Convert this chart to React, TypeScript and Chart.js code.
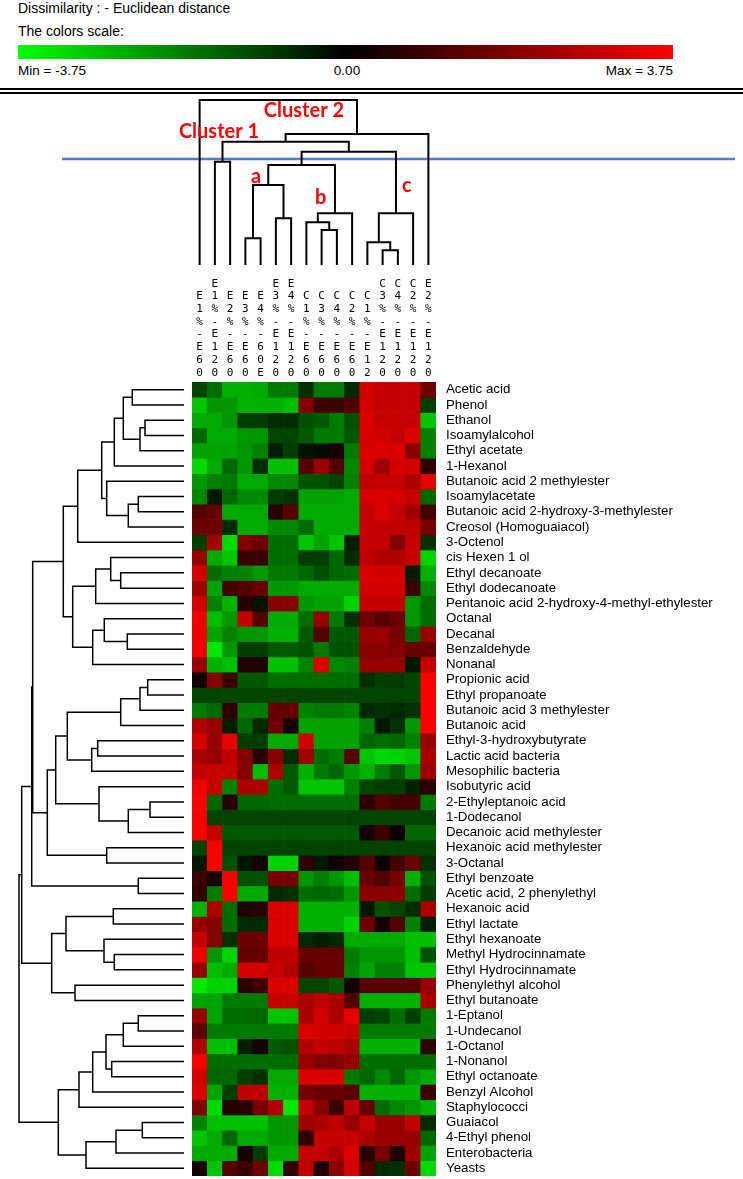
import React, { useEffect, useRef } from 'react';
import { Chart, registerables } from 'chart.js';

Chart.register(...registerables);

// ---------------- DATA ----------------
const COLUMNS: string[] = [
  'E1%-E60', 'E1%-E120', 'E2%-E60', 'E3%-E60', 'E4%-60E', 'E3%-E120', 'E4%-E120',
  'C1%-E60', 'C3%-E60', 'C4%-E60', 'C2%-E60', 'C1%-E12', 'C3%-E120', 'C4%-E120',
  'C2%-E120', 'E2%-E120',
];

const ROWS: string[] = [
  'Acetic acid', 'Phenol', 'Ethanol', 'Isoamylalcohol', 'Ethyl acetate', '1-Hexanol',
  'Butanoic acid 2 methylester', 'Isoamylacetate', 'Butanoic acid 2-hydroxy-3-methylester',
  'Creosol (Homoguaiacol)', '3-Octenol', 'cis Hexen 1 ol', 'Ethyl decanoate', 'Ethyl dodecanoate',
  'Pentanoic acid 2-hydroxy-4-methyl-ethylester', 'Octanal', 'Decanal', 'Benzaldehyde', 'Nonanal',
  'Propionic acid', 'Ethyl propanoate', 'Butanoic acid 3 methylester', 'Butanoic acid',
  'Ethyl-3-hydroxybutyrate', 'Lactic acid bacteria', 'Mesophilic bacteria', 'Isobutyric acid',
  '2-Ethyleptanoic acid', '1-Dodecanol', 'Decanoic acid methylester', 'Hexanoic acid methylester',
  '3-Octanal', 'Ethyl benzoate', 'Acetic acid, 2 phenylethyl', 'Hexanoic acid', 'Ethyl lactate',
  'Ethyl hexanoate', 'Methyl Hydrocinnamate', 'Ethyl Hydrocinnamate', 'Phenylethyl alcohol',
  'Ethyl butanoate', '1-Eptanol', '1-Undecanol', '1-Octanol', '1-Nonanol', 'Ethyl octanoate',
  'Benzyl Alcohol', 'Staphylococci', 'Guaiacol', '4-Ethyl phenol', 'Enterobacteria', 'Yeasts',
];

// standardized values, one row per compound, one entry per column
const VALUES: number[][] = [
  [-1.0, -1.6, -2.6, -2.6, -2.5, -1.8, -1.8, -0.7, -1.8, -1.8, -0.6, 3.1, 2.9, 2.9, 2.9, 1.6],
  [-2.9, -2.2, -2.2, -2.6, -2.6, -2.6, -2.8, 1.9, 0.9, 0.9, 1.2, 3.1, 2.9, 2.9, 2.9, -0.9],
  [-2.5, -2.5, -2.2, -0.9, -0.9, -0.65, -0.65, -1.2, -1.3, -1.8, -1.2, 3.2, 2.9, 2.9, 2.9, -2.9],
  [-1.5, -2.5, -2.5, -2.2, -2.2, -1.0, -1.0, -1.3, -1.8, -1.8, -1.3, 3.2, 3.1, 2.9, 3.2, -1.9],
  [-2.4, -2.4, -2.4, -2.2, -1.9, -0.45, -0.9, -0.3, -0.2, 0.35, -1.8, 3.2, 3.2, 3.2, 2.0, -1.9],
  [-3.2, -2.5, -1.5, -2.2, -0.65, -2.8, -2.8, 1.3, 2.2, 1.2, -2.0, 3.1, 2.35, 3.1, 3.1, 0.7],
  [-2.2, -1.9, -1.8, -2.5, -2.5, -2.0, -2.0, -1.2, -1.2, -1.0, -1.9, 2.8, 2.9, 2.9, 2.5, 3.4],
  [-2.0, -0.35, -1.5, -2.0, -2.0, -0.9, -0.7, -2.4, -2.4, -2.4, -2.5, 3.1, 3.2, 3.1, 2.9, -1.5],
  [1.2, 1.5, -2.5, -2.5, -2.5, 0.6, 1.2, -2.5, -2.5, -2.5, -2.5, 2.9, 3.2, 2.9, 2.35, 1.0],
  [1.6, 1.6, -0.6, -2.5, -2.5, -2.0, -2.0, -1.6, -2.5, -2.5, -2.5, 2.9, 2.8, 2.8, 2.8, 1.75],
  [-0.9, 2.35, -3.2, 1.9, 1.6, -1.6, -1.6, -2.9, -2.4, -2.9, -0.45, 2.9, 2.9, 1.9, 2.9, -0.7],
  [2.2, -2.5, -2.9, 0.9, 0.9, -1.6, -1.6, -0.9, -0.9, -1.5, -0.65, 2.8, 2.6, 2.6, 2.9, -3.1],
  [3.1, -1.6, -1.9, -1.9, -2.2, -1.8, -1.8, -1.5, -1.2, -1.5, -1.6, 3.2, 3.1, 3.1, -0.45, -2.6],
  [2.35, -2.4, 1.0, 1.2, 1.5, -2.2, -2.2, -2.5, -2.5, -2.5, -2.5, 3.1, 3.1, 3.1, 0.9, -2.0],
  [3.1, -1.9, -2.6, 0.6, -0.3, 2.0, 2.0, -2.2, -2.4, -2.4, -3.1, 2.9, 2.9, 2.9, -2.2, -1.6],
  [3.5, -2.8, -2.2, 2.9, 1.2, -2.5, -2.5, -1.6, 2.2, -1.8, -0.7, 1.6, 1.3, 1.6, -2.2, -1.6],
  [3.5, -2.4, -1.9, -2.2, -2.2, -2.6, -2.6, -1.3, 1.2, -1.3, -1.3, 2.2, 2.2, 1.75, -1.5, 2.2],
  [3.5, -3.4, -2.2, -0.9, -0.9, -1.3, -1.3, -1.2, -1.8, -1.2, -1.2, 2.0, 2.0, 1.9, 1.5, 1.5],
  [2.2, -2.6, -2.8, 0.45, 0.45, -2.8, -2.8, -1.9, 3.2, -2.0, -1.9, 2.2, 2.2, 2.2, -0.35, 2.9],
  [0.2, 1.9, 0.9, -1.3, -1.3, -1.6, -1.6, -1.6, -1.6, -1.6, -1.6, -0.7, -0.9, -0.9, -1.0, 3.7],
  [-1.0, -1.0, -1.0, -1.0, -1.0, -1.0, -1.0, -1.0, -1.0, -1.0, -1.0, -1.0, -1.0, -1.0, -1.0, 3.7],
  [-1.8, -1.5, 0.7, -1.8, -1.8, 1.5, 1.5, -1.9, -1.8, -1.8, -1.9, -0.6, -0.7, -0.6, -0.7, 3.7],
  [2.6, 2.2, -0.45, -1.5, -0.6, 1.6, 0.3, -2.4, -2.4, -2.4, -2.4, -1.9, -0.35, -0.7, -2.2, 3.7],
  [3.1, 2.2, 3.4, -0.9, -0.9, -2.5, -2.5, 3.1, -2.4, -2.4, -2.4, -1.5, -1.6, -1.5, -1.9, 2.2],
  [2.5, 2.2, 2.8, 1.9, 0.6, 2.0, -0.6, 2.35, -1.6, -1.8, 1.3, -2.9, -3.2, -3.1, -2.9, 2.5],
  [2.9, 2.9, 2.9, 1.9, -2.8, 2.5, -1.3, -2.6, -1.8, -1.5, -2.2, -2.6, -1.8, -1.3, -2.2, 2.35],
  [3.5, 2.9, -1.9, 2.5, 2.5, -1.6, -1.3, -2.9, -2.9, -2.9, -1.9, -1.0, -0.9, -0.9, -0.5, 0.6],
  [3.7, -1.5, 0.6, -1.5, -1.5, -1.6, -1.6, -1.6, -1.6, -1.6, -1.6, 0.7, 1.2, 1.0, 1.0, -1.8],
  [3.7, -1.0, -1.0, -1.0, -1.0, -1.0, -1.0, -1.0, -1.0, -1.0, -1.0, -1.0, -1.0, -1.0, -1.0, -1.0],
  [3.7, 2.8, -1.3, -1.3, -1.3, -1.3, -1.3, -1.3, -1.3, -1.3, -1.3, 0.3, 0.9, 0.2, -1.5, -1.5],
  [-1.0, 3.7, -1.0, -1.0, -1.0, -1.0, -1.0, -1.0, -1.0, -1.0, -1.0, -1.0, -1.0, -1.0, -1.0, -1.0],
  [-0.3, 3.7, -1.2, -0.3, 0.3, -3.1, -3.1, 0.7, -0.35, 0.2, 0.5, 1.3, 0.2, 1.0, 1.5, -0.7],
  [0.9, 0.35, 3.7, -1.2, -1.2, 1.75, 1.75, -2.2, -1.9, -2.2, -2.8, 1.5, 1.2, 1.75, -2.6, -1.2],
  [0.7, -1.8, 3.7, -2.5, -2.5, -0.6, -0.7, -1.6, -1.5, -1.6, -2.2, 2.0, 2.0, 2.0, -1.6, -0.9],
  [-2.6, 2.5, -1.6, 0.45, 0.6, 3.2, 3.2, -2.6, -2.6, -2.6, -2.6, -0.35, -1.2, -1.0, -0.6, 2.5],
  [2.2, 1.9, -1.6, -0.6, -0.6, 3.2, 3.2, -2.6, -2.6, -2.6, -3.1, 1.6, 0.35, 1.2, -1.9, -0.45],
  [2.9, 1.9, -0.7, 1.6, 1.6, 3.2, 3.2, -0.6, -0.45, -0.6, -2.5, -2.5, -2.5, -2.5, -2.8, -2.8],
  [3.5, -2.2, -3.1, 1.5, 1.5, 2.8, 2.8, 1.5, 1.5, 1.5, -1.8, -2.2, -2.2, -2.2, -2.8, -1.2],
  [2.2, -2.8, -2.5, 3.1, 3.1, 2.9, 2.6, 1.2, 1.5, 1.5, -1.9, -2.4, -1.9, -1.9, -2.9, -2.9],
  [-3.4, -3.1, -3.1, 0.6, 1.0, 3.2, 3.2, -1.0, -1.0, -1.3, 0.3, 1.3, 1.3, 1.3, 1.3, 2.2],
  [-2.4, -2.4, -1.8, -1.8, -1.8, 2.9, 2.9, 2.5, 2.8, 2.5, 1.2, -2.6, -2.6, -2.6, -2.6, 2.5],
  [2.2, -2.4, -1.6, -1.6, -1.5, -2.9, -2.9, 2.5, 3.1, 2.5, 3.4, -0.9, -1.0, -1.6, -0.9, -1.8],
  [1.3, -1.8, -1.8, -1.8, -1.8, -1.8, -1.8, 3.2, 3.1, 3.1, 2.9, -1.8, -1.8, -1.8, -1.8, -1.8],
  [2.6, -2.8, -2.8, -0.45, 0.35, -1.3, -1.2, 2.6, 2.9, 2.8, 2.5, -2.6, -2.6, -2.6, -2.6, 0.7],
  [3.7, -1.6, -1.6, -1.6, -1.6, -1.6, -1.6, 2.2, 1.9, 1.9, 2.2, -1.6, -1.6, -1.6, -1.6, -1.6],
  [3.1, -1.5, -1.5, -0.9, -0.7, -2.5, -2.5, 3.2, 3.2, 3.2, -1.8, -1.5, -2.0, -1.5, -2.2, -2.5],
  [3.2, -2.4, -0.9, 2.8, 2.8, -2.6, -2.6, 1.75, 1.5, 1.5, 1.3, -2.6, -2.6, -2.6, -2.6, 0.9],
  [1.9, -3.2, 0.6, 0.6, 1.75, 2.6, -3.4, 2.9, 2.0, 0.9, 2.8, 1.5, -1.6, -2.0, -2.2, -2.6],
  [-1.9, -2.8, -2.8, -2.8, -2.8, -2.2, -2.2, 2.35, 2.5, 2.8, 2.2, 2.9, 2.2, 2.2, 2.8, -0.6],
  [-2.9, -2.5, -1.5, -2.5, -2.5, -2.2, -2.2, 0.7, 2.9, 2.9, 2.9, 2.5, 2.2, 2.2, 2.2, -1.5],
  [-2.5, -2.5, -2.5, 0.35, -0.9, -2.5, -2.5, 2.9, 2.9, 2.5, 3.2, 0.6, 1.75, 0.45, 2.35, -2.4],
  [0.3, -2.9, 1.2, 0.9, 1.6, -3.2, 0.7, 2.8, 0.45, 2.0, 3.1, 1.2, -0.6, -0.7, 1.6, -3.2],
];

// linkage: [childA, childB, dissimilarity]; ids < n are leaves, id n+k is the k-th merge
const ROW_LINKAGE: [number, number, number][] = [
  [0, 1, 51.7], [2, 3, 39], [53, 4, 44], [52, 54, 60.7], [55, 5, 69.7],
  [7, 8, 45.7], [57, 9, 55.7], [6, 58, 77.3], [56, 59, 82.3], [60, 10, 106.3],
  [12, 13, 63.3], [11, 62, 73.3], [63, 14, 88.3], [16, 17, 56.7], [15, 65, 79.7],
  [66, 18, 91.3], [64, 67, 111.3], [61, 68, 120.7], [19, 20, 36.3], [70, 21, 44],
  [71, 22, 63.3], [23, 24, 86.3], [73, 25, 92.3], [72, 74, 116.7], [27, 28, 34],
  [76, 29, 55.7], [26, 77, 85], [75, 78, 128.3], [30, 31, 77.3], [79, 80, 136.7],
  [69, 81, 151.3], [32, 33, 45.7], [82, 83, 152.3], [34, 35, 70.7], [37, 38, 69.7],
  [36, 86, 80], [85, 87, 118], [39, 40, 109], [88, 89, 132.3], [84, 90, 162.3],
  [41, 42, 45.7], [92, 43, 60.7], [44, 45, 72.3], [93, 94, 78], [95, 46, 91.3],
  [96, 47, 105], [48, 49, 41.7], [98, 50, 68], [99, 51, 98], [97, 100, 125.7],
  [91, 101, 165],
];

const COL_LINKAGE: [number, number, number][] = [
  [12, 13, 14.7], [11, 16, 22.7], [17, 14, 51.7], [8, 9, 35], [7, 19, 42.7],
  [20, 10, 51.7], [3, 4, 26.7], [5, 6, 46.7], [22, 23, 80], [24, 21, 100],
  [25, 18, 113.3], [1, 2, 103.3], [27, 26, 123.3], [28, 15, 131], [0, 29, 165],
];

// truncation level and its drawn extent (in column units)
const CUT_LEVEL = 106;
const CUT_FROM = -8.52;
const CUT_TO = 35.6;

const CLUSTER_TEXTS = ['Cluster 2', 'Cluster 1', 'a', 'b', 'c'];
const CLUSTER_TEXT_X = [7.34, 1.77, 4.2, 8.44, 14.08];
const CLUSTER_TEXT_Y = [154.3, 133.3, 88, 67, 79.3];

const SCALE_MIN = -3.75;
const SCALE_MAX = 3.75;

// ---------------- LAYOUT ----------------
const W = 743;
const H = 1179;
const HM_LEFT = 192;
const HM_TOP = 382;
const CELL_W = 15.25;
const HM_H = 794;
const HM_W = CELL_W * COLUMNS.length;
const HEAT_CANVAS_TOP = 270;
const HEAT_CANVAS_W = W - HM_LEFT;
const HEAT_BOTTOM_PAD = 20;
const HEAT_CANVAS_H = HM_TOP - HEAT_CANVAS_TOP + HM_H + HEAT_BOTTOM_PAD;
const TOP_CANVAS_TOP = 93;
const TOP_CANVAS_H = 172;
const LEFT_W = 184;

function cellColor(v: number): string {
  const t = Math.min(1, Math.abs(v) / (v >= 0 ? SCALE_MAX : -SCALE_MIN));
  const c = Math.round(255 * t);
  return v >= 0 ? `rgb(${c},0,0)` : `rgb(0,${c},0)`;
}

function dendroSegments(n: number, links: [number, number, number][]) {
  const pos: number[] = [];
  const hgt: number[] = [];
  for (let i = 0; i < n; i++) {
    pos[i] = i + 0.5;
    hgt[i] = 0;
  }
  const segs: [number, number][][] = [];
  links.forEach(([a, b, h], k) => {
    const id = n + k;
    pos[id] = (pos[a] + pos[b]) / 2;
    hgt[id] = h;
    segs.push([
      [pos[a], hgt[a]],
      [pos[a], h],
      [pos[b], h],
      [pos[b], hgt[b]],
    ]);
  });
  return segs;
}

const baseOptions: any = {
  animation: false,
  responsive: false,
  maintainAspectRatio: false,
  events: [],
  plugins: { legend: { display: false }, tooltip: { enabled: false } },
};

export default function App() {
  const topRef = useRef<HTMLCanvasElement>(null);
  const leftRef = useRef<HTMLCanvasElement>(null);
  const heatRef = useRef<HTMLCanvasElement>(null);

  useEffect(() => {
    const charts: Chart[] = [];

    // ---- top (column) dendrogram ----
    const colSegs = dendroSegments(COLUMNS.length, COL_LINKAGE);
    const textPlugin = {
      id: 'clusterTexts',
      afterDatasetsDraw(chart: any) {
        const { ctx } = chart;
        const xs = chart.scales.x;
        const ys = chart.scales.y;
        ctx.save();
        ctx.fillStyle = '#FF0000';
        ctx.textAlign = 'center';
        ctx.textBaseline = 'middle';
        CLUSTER_TEXTS.forEach((t, i) => {
          ctx.font = 'bold 20px Lato, "Open Sans", sans-serif';
          ctx.fillText(t, xs.getPixelForValue(CLUSTER_TEXT_X[i]), ys.getPixelForValue(CLUSTER_TEXT_Y[i]));
        });
        ctx.restore();
      },
    };
    if (topRef.current) {
      charts.push(
        new Chart(topRef.current, {
          type: 'line',
          data: {
            datasets: [
              ...colSegs.map((s) => ({
                data: s.map(([x, y]) => ({ x, y })),
                borderColor: '#000',
                borderWidth: 2,
                pointRadius: 0,
                fill: false,
                tension: 0,
                borderJoinStyle: 'miter' as const,
              })),
              {
                data: [
                  { x: CUT_FROM, y: CUT_LEVEL },
                  { x: CUT_TO, y: CUT_LEVEL },
                ],
                borderColor: '#4F7DBF',
                borderWidth: 2.5,
                pointRadius: 0,
                fill: false,
              },
            ],
          },
          options: {
            ...baseOptions,
            layout: { padding: 0 },
            scales: {
              x: { type: 'linear', min: -HM_LEFT / CELL_W, max: (W - HM_LEFT) / CELL_W, display: false },
              y: { type: 'linear', min: 0, max: TOP_CANVAS_H, display: false },
            },
          },
          plugins: [textPlugin],
        } as any)
      );
    }

    // ---- left (row) dendrogram ----
    const rowSegs = dendroSegments(ROWS.length, ROW_LINKAGE);
    if (leftRef.current) {
      charts.push(
        new Chart(leftRef.current, {
          type: 'line',
          data: {
            datasets: rowSegs.map((s) => ({
              data: s.map(([p, h]) => ({ x: h, y: p })),
              borderColor: '#000',
              borderWidth: 1.5,
              pointRadius: 0,
              fill: false,
              tension: 0,
              borderJoinStyle: 'miter' as const,
            })),
          },
          options: {
            ...baseOptions,
            layout: { padding: { left: 0, right: 2, top: 0, bottom: 0 } },
            scales: {
              x: { type: 'linear', min: 0, max: LEFT_W, reverse: true, display: false },
              y: { type: 'linear', min: 0, max: ROWS.length, reverse: true, display: false },
            },
          },
        } as any)
      );
    }

    // ---- heatmap ----
    if (heatRef.current) {
      charts.push(
        new Chart(heatRef.current, {
          type: 'bar',
          data: {
            labels: COLUMNS,
            datasets: ROWS.map((name, r) => ({
              label: name,
              data: COLUMNS.map(() => 1),
              backgroundColor: VALUES[r].map(cellColor),
              borderWidth: 0,
              barPercentage: 1,
              categoryPercentage: 1,
              stack: 'cells',
              yAxisID: 'y',
            })),
          },
          options: {
            ...baseOptions,
            layout: { padding: { left: 0, right: 0, top: 0, bottom: HEAT_BOTTOM_PAD } },
            scales: {
              x: {
                type: 'category',
                position: 'top',
                stacked: true,
                grid: { display: false, drawTicks: false },
                border: { display: false },
                ticks: {
                  autoSkip: false,
                  maxRotation: 0,
                  minRotation: 0,
                  padding: 3,
                  color: '#000',
                  font: { family: '"DejaVu Sans Mono", monospace', size: 11, lineHeight: '12.7px' },
                  callback: (_v: any, i: number) => COLUMNS[i].split(''),
                },
                afterFit: (s: any) => {
                  s.height = HM_TOP - HEAT_CANVAS_TOP;
                },
              },
              y: {
                type: 'linear',
                stacked: true,
                min: 0,
                max: ROWS.length,
                reverse: true,
                display: false,
              },
              y2: {
                type: 'category',
                labels: ROWS,
                position: 'right',
                offset: true,
                grid: { display: false, drawTicks: false },
                border: { display: false },
                ticks: {
                  autoSkip: false,
                  padding: 10,
                  color: '#000',
                  font: { family: '"Liberation Sans", Arial, sans-serif', size: 13.3 },
                },
                afterFit: (s: any) => {
                  s.width = HEAT_CANVAS_W - HM_W;
                },
              },
            },
          },
        } as any)
      );
    }

    return () => charts.forEach((c) => c.destroy());
  }, []);

  const textStyle: React.CSSProperties = {
    position: 'absolute',
    fontFamily: '"Liberation Sans", Arial, sans-serif',
    fontSize: 13.5,
    color: '#000',
    whiteSpace: 'nowrap',
    lineHeight: '15px',
  };

  return (
    <div
      style={{
        position: 'absolute',
        left: 0,
        top: 0,
        width: W,
        height: H,
        overflow: 'hidden',
        background: '#fff',
      }}
    >
      <div style={{ ...textStyle, left: 18, top: 1, fontSize: 14 }}>Dissimilarity : - Euclidean distance</div>
      <div style={{ ...textStyle, left: 18, top: 24, fontSize: 14 }}>The colors scale:</div>
      <div
        style={{
          position: 'absolute',
          left: 18,
          top: 45,
          width: 655,
          height: 14,
          background: 'linear-gradient(to right, #00FF00 0%, #000000 50%, #FF0000 100%)',
        }}
      />
      <div style={{ ...textStyle, left: 18, top: 63 }}>Min = {SCALE_MIN.toFixed(2)}</div>
      <div style={{ ...textStyle, left: 347, top: 63, transform: 'translateX(-50%)' }}>0.00</div>
      <div style={{ ...textStyle, left: 673, top: 63, transform: 'translateX(-100%)' }}>
        Max = {SCALE_MAX.toFixed(2)}
      </div>
      <div style={{ position: 'absolute', left: 0, top: 88, width: W, height: 2, background: '#000' }} />
      <div style={{ position: 'absolute', left: 0, top: 92, width: W, height: 2, background: '#000' }} />

      <canvas
        ref={topRef}
        width={W}
        height={TOP_CANVAS_H}
        style={{ position: 'absolute', left: 0, top: TOP_CANVAS_TOP, width: W, height: TOP_CANVAS_H }}
      />
      <canvas
        ref={leftRef}
        width={LEFT_W + 2}
        height={HM_H}
        style={{ position: 'absolute', left: 0, top: HM_TOP, width: LEFT_W + 2, height: HM_H }}
      />
      <canvas
        ref={heatRef}
        width={HEAT_CANVAS_W}
        height={HEAT_CANVAS_H}
        style={{
          position: 'absolute',
          left: HM_LEFT,
          top: HEAT_CANVAS_TOP,
          width: HEAT_CANVAS_W,
          height: HEAT_CANVAS_H,
        }}
      />
    </div>
  );
}
